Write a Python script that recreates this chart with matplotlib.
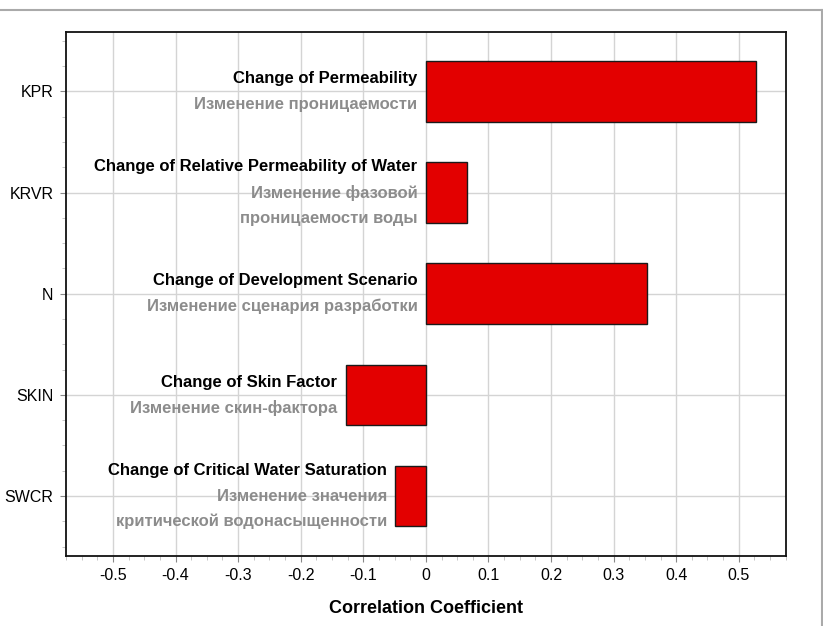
import matplotlib.pyplot as plt
from matplotlib.lines import Line2D
from matplotlib.ticker import MultipleLocator

plt.rcParams['font.family'] = ['Liberation Sans', 'DejaVu Sans']

params = ["KPR", "KRVR", "N", "SKIN", "SWCR"]
corr = [0.528, 0.065, 0.354, -0.128, -0.049]
titles_en = [
    "Change of Permeability",
    "Change of Relative Permeability of Water",
    "Change of Development Scenario",
    "Change of Skin Factor",
    "Change of Critical Water Saturation",
]
titles_ru = [
    ["Изменение проницаемости"],
    ["Изменение фазовой", "проницаемости воды"],
    ["Изменение сценария разработки"],
    ["Изменение скин-фактора"],
    ["Изменение значения", "критической водонасыщенности"],
]
xticks = [-0.5, -0.4, -0.3, -0.2, -0.1, 0, 0.1, 0.2, 0.3, 0.4, 0.5]
xtick_labels = ["-0.5", "-0.4", "-0.3", "-0.2", "-0.1", "0", "0.1", "0.2", "0.3", "0.4", "0.5"]

fig = plt.figure(figsize=(8.23, 6.26), dpi=100)
ax = fig.add_axes([0.0802, 0.1123, 0.8745, 0.8371])

ypos = list(range(len(params)))
ax.barh(ypos, corr, height=0.6, color="#e30000", edgecolor="#1a1a1a",
        linewidth=1.0, zorder=3)

ax.set_xlim(-0.575, 0.575)
ax.set_ylim(4.59, -0.59)
ax.set_xticks(xticks)
ax.set_xticklabels(xtick_labels)
ax.set_yticks(ypos)
ax.set_yticklabels(params)
ax.xaxis.set_minor_locator(MultipleLocator(0.025))
ax.yaxis.set_minor_locator(MultipleLocator(0.25))
ax.tick_params(which="major", length=4, width=0.8, color="#888888",
               labelsize=11.5, pad=5)
ax.tick_params(which="minor", length=3, width=0.6, color="#bbbbbb")
ax.grid(True, which="major", color="#d4d4d4", linewidth=1.0, zorder=0)
ax.set_axisbelow(True)
for s in ax.spines.values():
    s.set_linewidth(1.3)
    s.set_color("#111111")

ax.set_xlabel("Correlation Coefficient", fontsize=13, fontweight="bold",
              labelpad=12)

line_step = 18.5
for i, v in enumerate(corr):
    x0 = min(0, v)
    lines = [(titles_en[i], "black")] + [(t, "#8c8c8c") for t in titles_ru[i]]
    n = len(lines)
    for k, (txt, col) in enumerate(lines):
        dy = ((n - 1) / 2 - k) * line_step
        ax.annotate(txt, xy=(x0, i), xytext=(-6, dy), textcoords="offset points",
                    ha="right", va="center", fontsize=12, fontweight="bold",
                    color=col, zorder=4)

# outer frame lines
fig.add_artist(Line2D([0, 822.5 / 823], [1 - 9.5 / 626, 1 - 9.5 / 626],
                      transform=fig.transFigure, color="#aaaaaa", linewidth=1.5))
fig.add_artist(Line2D([822 / 823, 822 / 823], [0, 1 - 9.5 / 626],
                      transform=fig.transFigure, color="#aaaaaa", linewidth=1.5))

fig.savefig("out.png", dpi=100)
